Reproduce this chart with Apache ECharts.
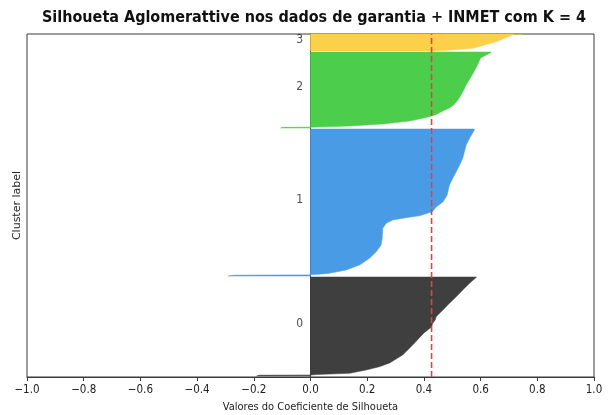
<!DOCTYPE html>
<html>
<head>
<meta charset="utf-8">
<script src="https://cdn.jsdelivr.net/npm/echarts@6/dist/echarts.min.js"></script>
<style>
  html, body { margin: 0; padding: 0; background: #fff; }
  #chart { width: 610px; height: 415px; }
</style>
</head>
<body>
<div id="chart"></div>
<script>
// Cluster names and colours
const clusterNames = ['0', '1', '2', '3'];
const clusterColors = ['#3f3f3f', '#4a9be6', '#4ccd4c', '#fcd048'];

// Sample index where each cluster's band starts (sorted samples, 10-sample gap)
const clusterStart = [10, 1010, 2490, 3260];

// Silhouette profiles per cluster: [rank inside the cluster, silhouette value], ascending
const silhouette0 = [
  [0, -0.19], [8, -0.18], [10, 0.002], [14, 0.02], [20, 0.07], [27, 0.138],
  [60, 0.196], [93, 0.243], [130, 0.279], [210, 0.325], [280, 0.35],
  [360, 0.377], [430, 0.40], [490, 0.427], [527, 0.431], [560, 0.44],
  [593, 0.443], [660, 0.467], [727, 0.49], [793, 0.514], [860, 0.537],
  [927, 0.561], [987, 0.585], [990, 0.585]
];
const silhouette1 = [
  [0, -0.29], [8, -0.27], [12, 0.0], [18, 0.03], [27, 0.067], [60, 0.126],
  [110, 0.173], [177, 0.208], [243, 0.232], [310, 0.249], [380, 0.253],
  [477, 0.255], [527, 0.267], [560, 0.29], [583, 0.337], [603, 0.385],
  [643, 0.43], [690, 0.443], [740, 0.467], [810, 0.482], [910, 0.49],
  [977, 0.502], [1043, 0.514], [1110, 0.526], [1177, 0.537], [1243, 0.543],
  [1310, 0.549], [1377, 0.561], [1460, 0.578], [1470, 0.578]
];
const silhouette2 = [
  [0, -0.105], [7, -0.10], [9, 0.02], [12, 0.06], [20, 0.14], [40, 0.256],
  [70, 0.35], [100, 0.40], [130, 0.44], [170, 0.467], [200, 0.49],
  [230, 0.505], [280, 0.52], [360, 0.537], [430, 0.549], [520, 0.568],
  [600, 0.584], [700, 0.60], [755, 0.637], [760, 0.637]
];
const silhouette3 = [
  [0, 0.44], [5, 0.479], [27, 0.573], [93, 0.655], [160, 0.713],
  [170, 0.716], [240, 0.75]
];
const profiles = [silhouette0, silhouette1, silhouette2, silhouette3];

// Mean silhouette score
const silhouetteAvg = 0.427;

// Axis settings
const xTicks = { min: -1.0, max: 1.0, interval: 0.2 };
const yLimit = [0, 3430];

const FONT = 'DejaVu Sans Condensed';

function formatTick(v) {
  const s = Math.abs(v).toFixed(1);
  return (v < -1e-9 ? '\u2212' : '') + s;
}

function clusterSeries(k) {
  const pts = profiles[k].map(([r, v]) => [v, clusterStart[k] + r]);
  return {
    type: 'custom',
    name: clusterNames[k],
    data: pts,
    encode: { x: 0, y: 1 },
    clip: true,
    silent: true,
    z: 2,
    renderItem(params, api) {
      if (params.dataIndex !== 0) return null;
      const poly = [api.coord([0, pts[0][1]])];
      pts.forEach(p => poly.push(api.coord(p)));
      poly.push(api.coord([0, pts[pts.length - 1][1]]));
      const cs = params.coordSys;
      return {
        type: 'polygon',
        shape: { points: echarts.graphic.clipPointsByRect(poly, cs) },
        style: { fill: clusterColors[k], stroke: clusterColors[k], lineWidth: 0.5 }
      };
    }
  };
}

// Cluster label positions: middle of the visible part of each band
const labelData = clusterNames.map((name, k) => {
  const lo = clusterStart[k];
  const hi = Math.min(clusterStart[k] + profiles[k][profiles[k].length - 1][0], yLimit[1]);
  return { name, value: [-0.05, (lo + hi) / 2] };
});

const chart = echarts.init(document.getElementById('chart'), null, { renderer: 'canvas' });

chart.setOption({
  animation: false,
  backgroundColor: '#ffffff',
  title: {
    text: 'Silhoueta Aglomerattive nos dados de garantia + INMET com K = 4',
    left: 37,
    top: 5,
    textStyle: { fontFamily: FONT, fontWeight: 'bold', fontSize: 16, color: '#111' }
  },
  grid: {
    left: 27, right: 16, top: 34, bottom: 38,
    outerBoundsMode: 'none',
    containLabel: false,
    show: true, borderColor: '#3a3a3a', borderWidth: 1, backgroundColor: 'transparent'
  },
  xAxis: {
    type: 'value',
    min: xTicks.min, max: xTicks.max, interval: xTicks.interval,
    name: 'Valores do Coeficiente de Silhoueta',
    nameLocation: 'middle',
    nameGap: 25,
    nameTextStyle: { fontFamily: FONT, fontSize: 11, color: '#222' },
    axisLine: { show: true, onZero: false, lineStyle: { color: '#3a3a3a', width: 1 } },
    axisTick: { show: true, inside: false, length: 4, lineStyle: { color: '#3a3a3a' } },
    axisLabel: { formatter: formatTick, fontFamily: FONT, fontSize: 11.5, color: '#222', margin: 7 },
    splitLine: { show: false }
  },
  yAxis: {
    type: 'value',
    min: yLimit[0], max: yLimit[1],
    name: 'Cluster label',
    nameLocation: 'middle',
    nameGap: 4,
    nameTextStyle: { fontFamily: 'DejaVu Sans', fontSize: 11, color: '#222' },
    axisLine: { show: true, lineStyle: { color: '#3a3a3a', width: 1 } },
    axisTick: { show: false },
    axisLabel: { show: false },
    splitLine: { show: false }
  },
  series: [
    clusterSeries(0), clusterSeries(1), clusterSeries(2), clusterSeries(3),
    {
      type: 'scatter',
      data: labelData,
      symbolSize: 0,
      silent: true,
      z: 5,
      label: {
        show: true, position: 'inside', formatter: '{b}', align: 'left',
        offset: [0, -3],
        fontFamily: FONT, fontSize: 12, color: '#222'
      }
    },
    {
      type: 'line',
      data: [[silhouetteAvg, yLimit[0]], [silhouetteAvg, yLimit[1]]],
      symbol: 'none',
      silent: true,
      z: 6,
      lineStyle: { color: '#f23a3e', width: 1.6, type: [6, 3] }
    }
  ]
});
</script>
</body>
</html>
